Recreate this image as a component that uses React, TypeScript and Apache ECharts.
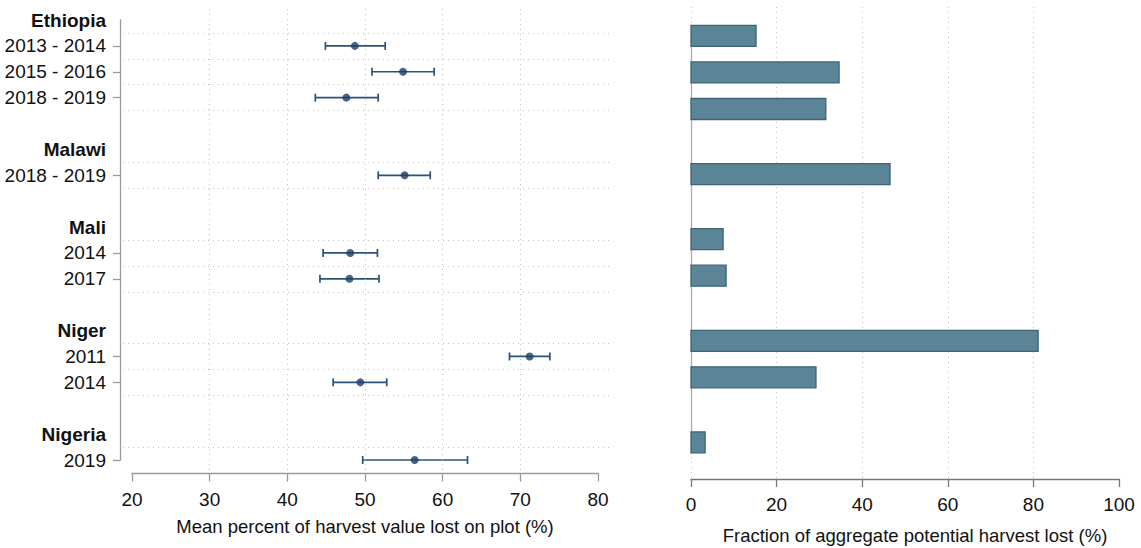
import React, { useEffect, useRef } from "react";
import * as echarts from "echarts";

// ---- Left panel: rows (headers, surveys, spacers) ----
const rowLabels = [
  "Ethiopia", "2013 - 2014", "2015 - 2016", "2018 - 2019", "",
  "Malawi", "2018 - 2019", "",
  "Mali", "2014", "2017", "",
  "Niger", "2011", "2014", "",
  "Nigeria", "2019",
];
const headerRows = [0, 5, 8, 12, 16];
const dataRows = [1, 2, 3, 6, 9, 10, 13, 14, 17];
const meanLoss = [48.7, 54.9, 47.6, 55.1, 48.1, 48.0, 71.2, 49.4, 56.4];
const ciLow = [44.9, 50.9, 43.6, 51.7, 44.6, 44.2, 68.6, 45.9, 49.7];
const ciHigh = [52.6, 58.9, 51.7, 58.4, 51.6, 51.8, 73.8, 52.8, 63.2];
const leftGridValues = [30, 40, 50, 60, 70];

// ---- Right panel: aggregate loss ----
const countries = ["Ethiopia", "Malawi", "Mali", "Niger", "Nigeria"];
const surveysPerCountry = [3, 1, 2, 2, 1];
const aggregateLoss = [15.2, 34.6, 31.5, 46.5, 7.5, 8.2, 81.1, 29.2, 3.3];

const FONT = "'Liberation Sans Narrow', 'Arial Narrow', 'Liberation Sans', Arial, sans-serif";
const GRID_COLOR = "#c0c0c0";
const AXIS_COLOR = "#9a9a9a";
const ERR_COLOR = "#2b5279";
const DOT_COLOR = "#1b3f66";
const BAR_FILL = "#5c8497";
const BAR_STROKE = "#3d657a";
const LABEL_SIZE = 19;
const TITLE_SIZE = 18.5;

export default function App() {
  const ref = useRef<HTMLDivElement>(null);

  useEffect(() => {
    document.body.style.margin = "0";
    if (!ref.current) return;
    const chart = echarts.init(ref.current, undefined, { renderer: "svg" });

    // left scales (data grid slightly wider than the axis grid)
    const pxPerUnit = (598 - 132) / 60;
    const xMinL = 20 - (132 - 123) / pxPerUnit;
    const xMaxL = 80 + (612 - 598) / pxPerUnit;
    const rowPx = (460 - 20) / (rowLabels.length - 1);
    const yMinL = -(20 - 9) / rowPx;
    const yMaxL = rowLabels.length - 1 + (473.5 - 460) / rowPx;

    const boundaries: number[] = [];
    dataRows.forEach((r) => {
      [r - 0.5, r + 0.5].forEach((b) => {
        if (!boundaries.includes(b) && b < rowLabels.length - 1) boundaries.push(b);
      });
    });

    // right bar positions
    const groupGap = 1.78;
    const barPos: number[] = [];
    let p = 0;
    surveysPerCountry.forEach((n, gi) => {
      if (gi > 0) p += groupGap - 1;
      for (let i = 0; i < n; i++) {
        barPos.push(p);
        p += 1;
      }
    });
    const lastPos = barPos[barPos.length - 1];
    const slotPx = 36.5;
    const yMinR = -(35.8 - 7) / slotPx;
    const yMaxR = lastPos + (479 - 442.5) / slotPx;

    const dotted = { color: GRID_COLOR, width: 1, type: [1, 4] as number[] };
    const gridBase = { containLabel: false, outerBoundsMode: "none" };

    const option: any = {
      animation: false,
      textStyle: { fontFamily: FONT },
      grid: [
        { ...gridBase, left: 123, right: 1141 - 612, top: 9, bottom: 548 - 473.5 },
        { ...gridBase, left: 132, right: 1141 - 598, top: 20, bottom: 548 - 460 },
        { ...gridBase, left: 691, right: 1141 - 1119, top: 7, bottom: 548 - 479 },
        { ...gridBase, left: 691, right: 1141 - 1119, top: 35, bottom: 548 - 453 },
      ],
      xAxis: [
        { gridIndex: 0, type: "value", min: xMinL, max: xMaxL, show: false },
        {
          gridIndex: 1, type: "value", min: 20, max: 80, interval: 10, offset: 13.5,
          axisLine: { show: true, onZero: false, lineStyle: { color: AXIS_COLOR, width: 1.3 } },
          axisTick: { show: true, length: 8, lineStyle: { color: AXIS_COLOR, width: 1.3 } },
          axisLabel: { color: "#111", fontSize: LABEL_SIZE, margin: 16, fontFamily: FONT },
          splitLine: { show: false },
          name: "Mean percent of harvest value lost on plot (%)",
          nameLocation: "middle", nameGap: 43,
          nameTextStyle: { color: "#111", fontSize: TITLE_SIZE, fontFamily: FONT },
        },
        {
          gridIndex: 2, type: "value", min: 0, max: 100, interval: 20,
          axisLine: { show: true, onZero: false, lineStyle: { color: "#777", width: 1.3 } },
          axisTick: { show: true, length: 8, lineStyle: { color: "#777", width: 1.3 } },
          axisLabel: { color: "#111", fontSize: LABEL_SIZE, margin: 16, fontFamily: FONT },
          splitLine: { show: true, showMinLine: true, showMaxLine: false, lineStyle: dotted },
          name: "Fraction of aggregate potential harvest lost (%)",
          nameLocation: "middle", nameGap: 47,
          nameTextStyle: { color: "#111", fontSize: TITLE_SIZE, fontFamily: FONT, padding: [0, 0, 0, 20] },
        },
        { gridIndex: 3, type: "value", min: 0, max: 1, show: false },
      ],
      yAxis: [
        { gridIndex: 0, type: "value", min: yMinL, max: yMaxL, inverse: true, show: false },
        {
          gridIndex: 1, type: "category", inverse: true, boundaryGap: false, offset: 12,
          data: rowLabels.map((_, i) => "row" + i),
          axisLine: { show: true, onZero: false, lineStyle: { color: AXIS_COLOR, width: 1.3 } },
          axisTick: {
            show: true, length: 7, lineStyle: { color: AXIS_COLOR, width: 1.3 },
            interval: (index: number) => dataRows.includes(index),
          },
          axisLabel: {
            show: true, interval: 0, margin: 14, color: "#111", fontSize: LABEL_SIZE, fontFamily: FONT,
            formatter: (_v: string, i: number) =>
              headerRows.includes(i) ? `{h|${rowLabels[i]}}` : rowLabels[i] ? `{r|${rowLabels[i]}}` : "",
            rich: {
              h: { fontWeight: "bold", fontSize: LABEL_SIZE, color: "#111", fontFamily: FONT },
              r: { fontSize: LABEL_SIZE, color: "#111", fontFamily: FONT },
            },
          },
          splitLine: { show: false },
        },
        { gridIndex: 2, type: "value", min: yMinR, max: yMaxR, inverse: true, show: false },
        {
          gridIndex: 3, type: "value", min: 0, max: 1, inverse: true,
          axisLine: { show: true, onZero: false, lineStyle: { color: "#aaa", width: 1.3 } },
          axisTick: { show: false }, axisLabel: { show: false }, splitLine: { show: false },
        },
      ],
      series: [
        {
          type: "custom",
          name: "ci",
          xAxisIndex: 0, yAxisIndex: 0,
          data: dataRows.map((r, i) => [ciLow[i], ciHigh[i], r]),
          encode: { x: [0, 1], y: 2 },
          renderItem: (_params: any, api: any) => {
            const lo = api.coord([api.value(0), api.value(2)]);
            const hi = api.coord([api.value(1), api.value(2)]);
            const cap = 4;
            const st = { stroke: ERR_COLOR, lineWidth: 1.7 };
            return {
              type: "group",
              children: [
                { type: "line", shape: { x1: lo[0], y1: lo[1], x2: hi[0], y2: hi[1] }, style: st },
                { type: "line", shape: { x1: lo[0], y1: lo[1] - cap, x2: lo[0], y2: lo[1] + cap }, style: st },
                { type: "line", shape: { x1: hi[0], y1: hi[1] - cap, x2: hi[0], y2: hi[1] + cap }, style: st },
              ],
            };
          },
          markLine: {
            silent: true, symbol: "none", label: { show: false },
            lineStyle: { color: GRID_COLOR, width: 1, type: [1, 4] },
            data: [
              ...leftGridValues.map((v) => ({ xAxis: v })),
              ...boundaries.map((b) => ({ yAxis: b })),
            ],
          },
          z: 3,
        },
        {
          type: "scatter",
          name: "mean",
          xAxisIndex: 0, yAxisIndex: 0,
          data: dataRows.map((r, i) => [meanLoss[i], r]),
          symbol: "circle", symbolSize: 8,
          itemStyle: { color: DOT_COLOR },
          z: 4,
        },
        {
          type: "custom",
          name: "aggregate",
          xAxisIndex: 2, yAxisIndex: 2,
          data: aggregateLoss.map((v, i) => [v, barPos[i], countries.length]),
          encode: { x: 0, y: 1 },
          renderItem: (_params: any, api: any) => {
            const s = api.coord([0, api.value(1)]);
            const e = api.coord([api.value(0), api.value(1)]);
            const h = 21;
            return {
              type: "rect",
              shape: { x: s[0], y: s[1] - h / 2, width: e[0] - s[0], height: h },
              style: { fill: BAR_FILL, stroke: BAR_STROKE, lineWidth: 1.3 },
            };
          },
          z: 3,
        },
      ],
    };

    chart.setOption(option);
    return () => chart.dispose();
  }, []);

  return <div ref={ref} style={{ width: 1141, height: 548, background: "#fff" }} />;
}
